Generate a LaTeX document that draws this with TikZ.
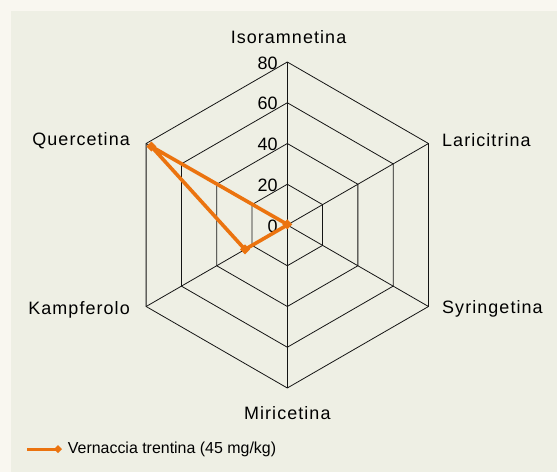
\documentclass[tikz,border=0pt]{standalone}
\usepackage{fontspec}
\setmainfont{Liberation Sans}
\newfontfamily\axisfont[LetterSpace=6]{Liberation Sans}
\usetikzlibrary{calc}
\definecolor{outerbg}{RGB}{249,247,240}
\definecolor{innerbg}{RGB}{238,239,228}
\definecolor{serieorange}{RGB}{235,115,15}
\definecolor{gridcol}{RGB}{20,20,20}
\tikzset{
  gridline/.style={draw=gridcol, line width=0.8bp},
  axislabel/.style={font=\axisfont\fontsize{18}{20}\selectfont, inner sep=0pt, text=black},
  ticklabel/.style={font=\fontsize{18}{20}\selectfont, inner sep=0pt, anchor=east, text=black},
  serie/.style={draw=serieorange, line width=3.6bp, line join=round},
  markerdiamond/.style={fill=serieorange, draw=none},
  legendtext/.style={font=\fontsize{16}{18}\selectfont, inner sep=0pt, anchor=west, text=black}
}
\begin{document}
\begin{tikzpicture}[x=1bp,y=1bp]
\useasboundingbox (0,0) rectangle (557,-472);
\fill[outerbg] (0,0) rectangle (557,-472);
\fill[innerbg] (11,-11) rectangle (557,-472);
\begin{scope}[shift={(287.3,-225)}]
  \coordinate (C) at (0,0);
  % rings
  \foreach \k in {1,2,3,4}{
    \pgfmathsetmacro{\r}{40.75*\k}
    \draw[gridline] (90:\r) -- (30:\r) -- (-30:\r) -- (-90:\r) -- (210:\r) -- (150:\r) -- cycle;
  }
  % spokes
  \foreach \a/\n in {90/Iso,30/Lar,-30/Syr,-90/Mir,210/Kam,150/Que}{
    \coordinate (\n) at (\a:163);
    \draw[gridline] (C) -- (\n);
  }
  % tick labels
  \foreach \k/\v in {0/0,1/20,2/40,3/60,4/80}{
    \node[ticklabel] (t\v) at ($(90:40.75*\k)+(-9.5,-1)$) {\v};
  }
  % axis labels
  \node[axislabel] (lIso) at (1.2,188) {Isoramnetina};
  \node[axislabel, anchor=west] (lLar) at (154.7,84.7) {Laricitrina};
  \node[axislabel, anchor=west] (lSyr) at (154.7,-84.3) {Syringetina};
  \node[axislabel] (lMir) at (0,-188) {Miricetina};
  \node[axislabel, anchor=east] (lKam) at (-157.3,-85) {Kampferolo};
  \node[axislabel, anchor=east] (lQue) at (-157.3,84.7) {Quercetina};
  % data series
  \coordinate (dQue) at (150:156.9);
  \coordinate (dIso) at (90:0.6);
  \coordinate (dLar) at (0,0);
  \coordinate (dSyr) at (0,0);
  \coordinate (dMir) at (0,0);
  \coordinate (dKam) at (210:48.9);
  \draw[serie] (dIso) -- (dLar) -- (dSyr) -- (dMir) -- (dKam) -- (dQue) -- cycle;
  \foreach \p in {dQue,dIso,dKam}{
    \fill[markerdiamond] ($(\p)+(0,5)$) -- ($(\p)+(5,0)$) -- ($(\p)+(0,-5)$) -- ($(\p)+(-5,0)$) -- cycle;
  }
\end{scope}
% legend
\coordinate (legA) at (27.3,-449);
\coordinate (legB) at (58,-449);
\draw[draw=serieorange, line width=3bp] (legA) -- (legB);
\fill[markerdiamond] ($(legB)+(0,4)$) -- ($(legB)+(4,0)$) -- ($(legB)+(0,-4)$) -- ($(legB)+(-4,0)$) -- cycle;
\node[legendtext] (legtext) at (67.7,-449) {Vernaccia trentina (45 mg/kg)};
\end{tikzpicture}
\end{document}
